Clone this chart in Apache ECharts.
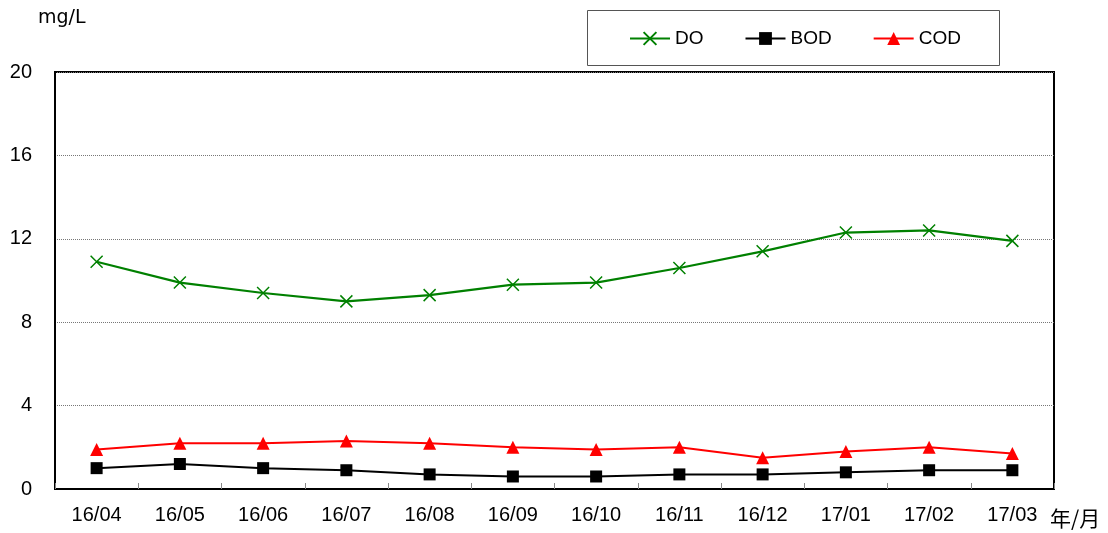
<!DOCTYPE html>
<html><head><meta charset="utf-8">
<script src="https://cdn.jsdelivr.net/npm/echarts@6/dist/echarts.min.js"></script>
<style>html,body{margin:0;padding:0;background:#fff}#c{width:1108px;height:533px}</style>
</head><body><div id="c"></div>
<script>
const categories = ['16/04','16/05','16/06','16/07','16/08','16/09','16/10','16/11','16/12','17/01','17/02','17/03'];
const doValues  = [10.9, 9.9, 9.4, 9.0, 9.3, 9.8, 9.9, 10.6, 11.4, 12.3, 12.4, 11.9];
const bodValues = [1.0, 1.2, 1.0, 0.9, 0.7, 0.6, 0.6, 0.7, 0.7, 0.8, 0.9, 0.9];
const codValues = [1.9, 2.2, 2.2, 2.3, 2.2, 2.0, 1.9, 2.0, 1.5, 1.8, 2.0, 1.7];
const yTicks = [0, 4, 8, 12, 16, 20];

const FONT = '"Noto Sans CJK JP", "Liberation Sans", sans-serif';
const LAT = '"Liberation Sans", sans-serif';
const crossPath = 'path://M0,0L10,10M10,0L0,10';

const chart = echarts.init(document.getElementById('c'), null, {renderer:'canvas'});
chart.setOption({
  animation: false,
  backgroundColor: '#fff',
  textStyle: {fontFamily: FONT},
  grid: {left: 55, right: 54, top: 72, bottom: 44, show: true, borderColor: '#000', borderWidth: 2, backgroundColor: 'transparent'},
  legend: {
    left: 624, top: 24, itemWidth: 40, itemHeight: 16, itemGap: 41,
    textStyle: {fontSize: 19, color: '#000', fontFamily: LAT},
    data: ['DO','BOD','COD']
  },
  graphic: [
    {type: 'rect', shape: {x: 587.5, y: 10.5, width: 412, height: 55}, style: {fill: 'none', stroke: '#555', lineWidth: 1}, z: 0},
    {type: 'text', left: 38, top: 9, style: {text: 'mg/L', font: '19px "DejaVu Sans", sans-serif', fill: '#000'}},
    {type: 'text', left: 1050, top: 508, style: {text: '年/月', font: '21px ' + FONT, fill: '#000'}}
  ],
  xAxis: {
    type: 'category', data: categories, boundaryGap: true,
    axisLine: {lineStyle: {color: '#000', width: 2}},
    axisTick: {show: true, inside: true, length: 6, lineStyle: {color: '#888'}, alignWithLabel: false},
    axisLabel: {fontSize: 20, color: '#000', margin: 16, fontFamily: LAT},
    splitLine: {show: false}
  },
  yAxis: {
    type: 'value', min: 0, max: 20, interval: 4,
    axisLine: {show: true, lineStyle: {color: '#000', width: 2}},
    axisTick: {show: false},
    axisLabel: {fontSize: 20, color: '#000', margin: 23, fontFamily: LAT,
      formatter: v => yTicks.includes(v) ? String(v) : ''},
    splitLine: {show: true, lineStyle: {color: '#777', type: [1, 1], width: 1}}
  },
  series: [
    {name: 'DO', type: 'line', data: doValues, symbol: crossPath, symbolSize: 12,
     lineStyle: {color: '#008000', width: 2.2}, itemStyle: {color: 'none', borderColor: '#008000', borderWidth: 1.5}},
    {name: 'BOD', type: 'line', data: bodValues, symbol: 'rect', symbolSize: 12,
     lineStyle: {color: '#000', width: 2}, itemStyle: {color: '#000'}},
    {name: 'COD', type: 'line', data: codValues, symbol: 'triangle', symbolSize: 13,
     lineStyle: {color: '#ff0000', width: 2}, itemStyle: {color: '#ff0000'}}
  ]
});
</script></body></html>
